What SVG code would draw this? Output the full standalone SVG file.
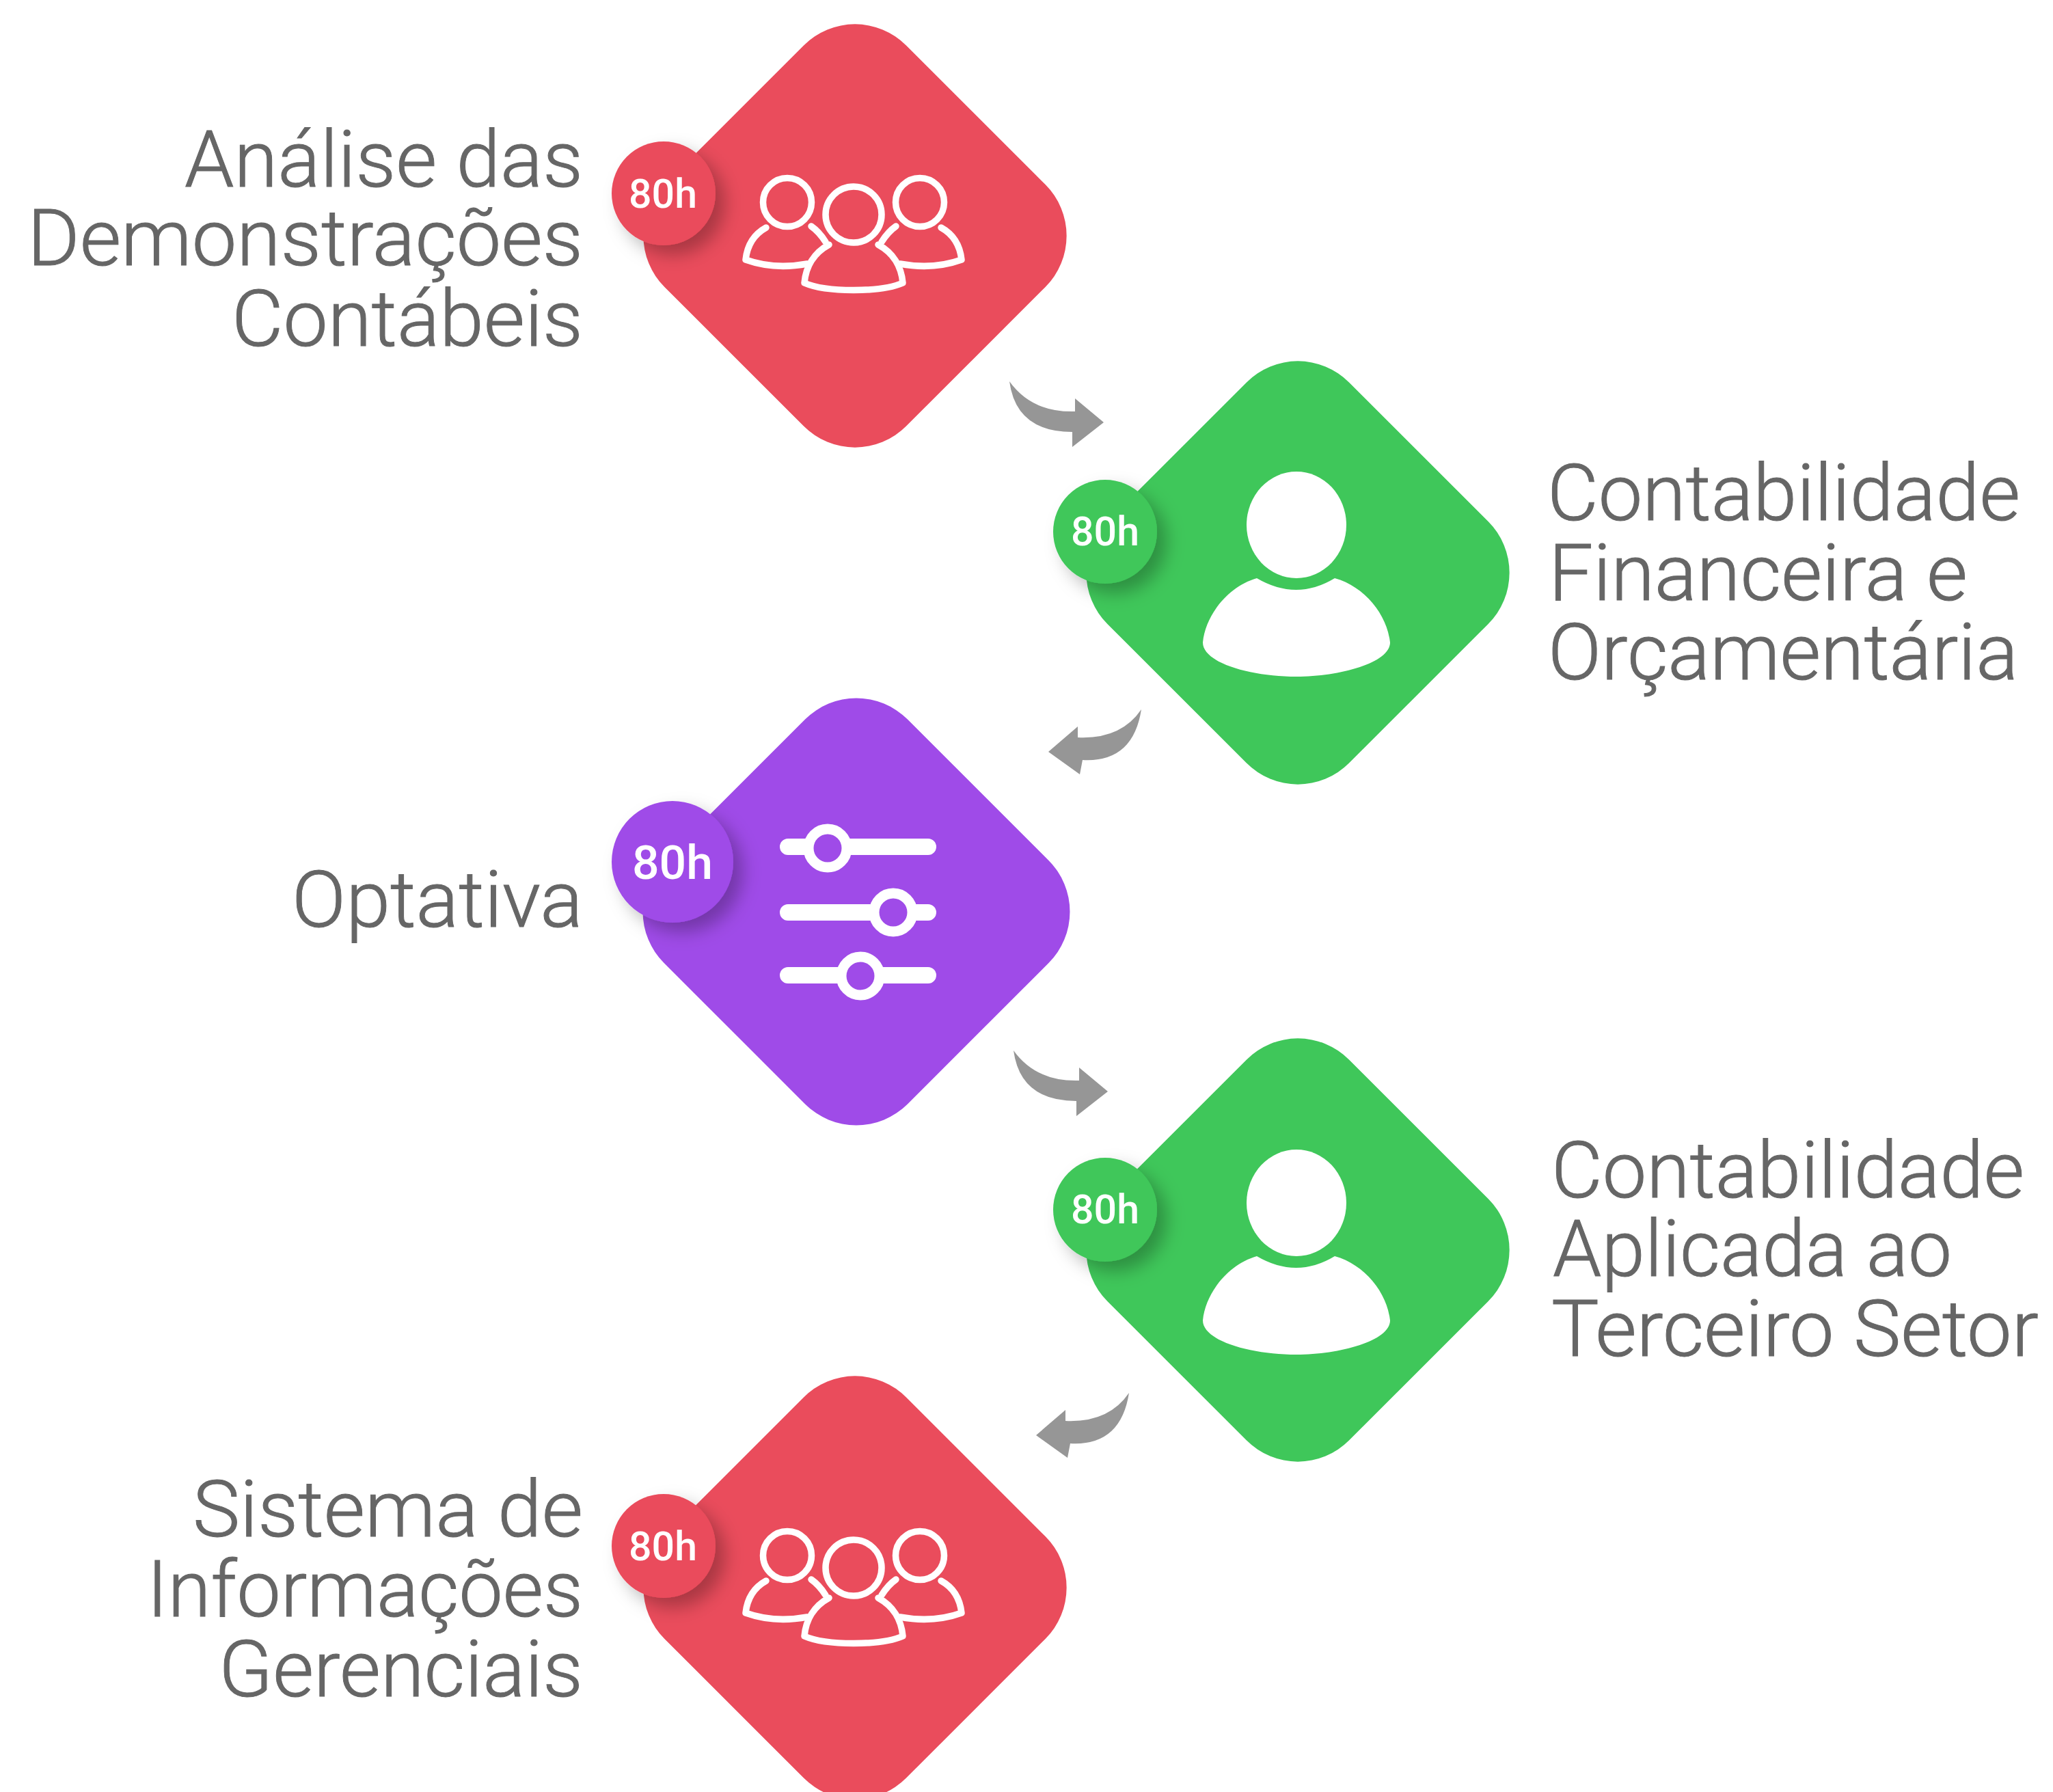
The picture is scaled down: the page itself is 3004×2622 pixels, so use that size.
<svg xmlns="http://www.w3.org/2000/svg" width="3004" height="2622" viewBox="0 0 3004 2622">
<style>
.lbl{font-family:"Roboto","Liberation Sans",sans-serif;font-weight:300;font-size:115px;fill:#666666;stroke:#666666;stroke-width:1}
.end{text-anchor:end}
.bt{font-family:"Roboto","Liberation Sans",sans-serif;font-weight:500;fill:#ffffff;text-anchor:middle;font-size:60px}
.bt2{font-size:68px}
.arr{fill:#969696}
.red{fill:#EA4C5C}.green{fill:#3FC75A}.purple{fill:#9F4BE8}
.ol{fill:none;stroke:#ffffff;stroke-width:9.5;stroke-linejoin:round;stroke-linecap:round}
.bar{fill:none;stroke:#ffffff;stroke-width:24;stroke-linecap:round}
.knob{fill:#9F4BE8;stroke:#ffffff;stroke-width:15}
</style>
<defs>
<filter id="sh" x="-40%" y="-40%" width="200%" height="200%"><feDropShadow dx="14" dy="14" stdDeviation="13" flood-color="#000000" flood-opacity="0.28"/></filter>
<rect id="dia" x="-250" y="-250" width="500" height="500" rx="106" ry="106"/>
<rect id="dia2" x="-252" y="-252" width="504" height="504" rx="106" ry="106"/>
<g id="people">
<path class="ol" d="M-128,19 C-148,30 -156,48 -158,66 C-130,76 -100,78 -68,72"/>
<path class="ol" d="M-62,17 C-52,24 -46,32 -41,40"/>
<path class="ol" d="M128,19 C148,30 156,48 158,66 C130,76 100,78 68,72"/>
<path class="ol" d="M62,17 C52,24 46,32 41,40"/>
<circle class="ol" cx="-97" cy="-18" r="35.5"/>
<circle class="ol" cx="97" cy="-18" r="35.5"/>
<path class="ol" d="M-36,44 C-58,56 -70,76 -72,100 C-40,114 40,114 72,100 C70,76 58,56 36,44"/>
<circle class="ol" cx="0" cy="0" r="41"/>
</g>
<g id="solid">
<ellipse cx="0" cy="-70" rx="73" ry="78" fill="#ffffff"/>
<path fill="#ffffff" d="M-58,8 Q0,42 56,8 C100,20 133,62 137,102 C137,132 63,152 0,152 C-67,152 -137,132 -137,102 C-133,62 -100,20 -58,8Z"/>
</g>
</defs>
<rect width="3004" height="2622" fill="#ffffff"/>
<g id="connectors">
<path class="arr" d="M1477,558 Q1487,632 1569,632 L1569,654 L1615,618 L1573,583 L1573,602 Q1510,604 1477,558Z"/>
<path class="arr" d="M1670,1038 Q1640,1082 1577,1079 L1577,1063 L1534,1100 L1580,1133 L1584,1112 Q1658,1116 1670,1038Z"/>
<path class="arr" transform="translate(6,979)" d="M1477,558 Q1487,632 1569,632 L1569,654 L1615,618 L1573,583 L1573,602 Q1510,604 1477,558Z"/>
<path class="arr" transform="translate(-18,1000)" d="M1670,1038 Q1640,1082 1577,1079 L1577,1063 L1534,1100 L1580,1133 L1584,1112 Q1658,1116 1670,1038Z"/>
</g>
<g id="node1">
<use href="#dia" class="red" transform="translate(1251,345) rotate(45)"/>
<use href="#people" transform="translate(1249,314)"/>
<circle class="red" cx="971" cy="283" r="76" filter="url(#sh)"/>
<text class="bt" x="970" y="304" textLength="100" lengthAdjust="spacingAndGlyphs">80h</text>
<text class="lbl end" x="853" y="273" textLength="583" lengthAdjust="spacingAndGlyphs">Análise das</text>
<text class="lbl end" x="853" y="388" textLength="813" lengthAdjust="spacingAndGlyphs">Demonstrações</text>
<text class="lbl end" x="853" y="506" textLength="514" lengthAdjust="spacingAndGlyphs">Contábeis</text>
</g>
<g id="node2">
<use href="#dia" class="green" transform="translate(1899,838) rotate(45)"/>
<use href="#solid" transform="translate(1897,838)"/>
<circle class="green" cx="1617" cy="778" r="76" filter="url(#sh)"/>
<text class="bt" x="1617" y="798" textLength="100" lengthAdjust="spacingAndGlyphs">80h</text>
<text class="lbl" x="2264" y="761" textLength="692" lengthAdjust="spacingAndGlyphs">Contabilidade</text>
<text class="lbl" x="2266" y="878" textLength="613" lengthAdjust="spacingAndGlyphs">Financeira e</text>
<text class="lbl" x="2265" y="994" textLength="688" lengthAdjust="spacingAndGlyphs">Orçamentária</text>
</g>
<g id="node3">
<use href="#dia2" class="purple" transform="translate(1253,1334) rotate(45)"/>
<path class="bar" d="M1153,1239H1358M1153,1335H1358M1153,1427H1358"/>
<circle class="knob" cx="1211" cy="1241" r="28"/>
<circle class="knob" cx="1307" cy="1335" r="28"/>
<circle class="knob" cx="1259" cy="1428" r="28"/>
<circle class="purple" cx="984" cy="1261" r="89" filter="url(#sh)"/>
<text class="bt bt2" x="984" y="1286" textLength="118" lengthAdjust="spacingAndGlyphs">80h</text>
<text class="lbl end" x="853" y="1356" textLength="426" lengthAdjust="spacingAndGlyphs">Optativa</text>
</g>
<g id="node4">
<use href="#dia" class="green" transform="translate(1899,1829) rotate(45)"/>
<use href="#solid" transform="translate(1897,1830)"/>
<circle class="green" cx="1617" cy="1770" r="76" filter="url(#sh)"/>
<text class="bt" x="1617" y="1790" textLength="100" lengthAdjust="spacingAndGlyphs">80h</text>
<text class="lbl" x="2270" y="1752" textLength="692" lengthAdjust="spacingAndGlyphs">Contabilidade</text>
<text class="lbl" x="2272" y="1867" textLength="584" lengthAdjust="spacingAndGlyphs">Aplicada ao</text>
<text class="lbl" x="2270" y="1984" textLength="713" lengthAdjust="spacingAndGlyphs">Terceiro Setor</text>
</g>
<g id="node5">
<use href="#dia" class="red" transform="translate(1251,2323) rotate(45)"/>
<use href="#people" transform="translate(1249,2294)"/>
<circle class="red" cx="971" cy="2262" r="76" filter="url(#sh)"/>
<text class="bt" x="970" y="2283" textLength="100" lengthAdjust="spacingAndGlyphs">80h</text>
<text class="lbl end" x="853" y="2248" textLength="571" lengthAdjust="spacingAndGlyphs">Sistema de</text>
<text class="lbl end" x="853" y="2365" textLength="638" lengthAdjust="spacingAndGlyphs">Informações</text>
<text class="lbl end" x="853" y="2482" textLength="533" lengthAdjust="spacingAndGlyphs">Gerenciais</text>
</g>
</svg>
